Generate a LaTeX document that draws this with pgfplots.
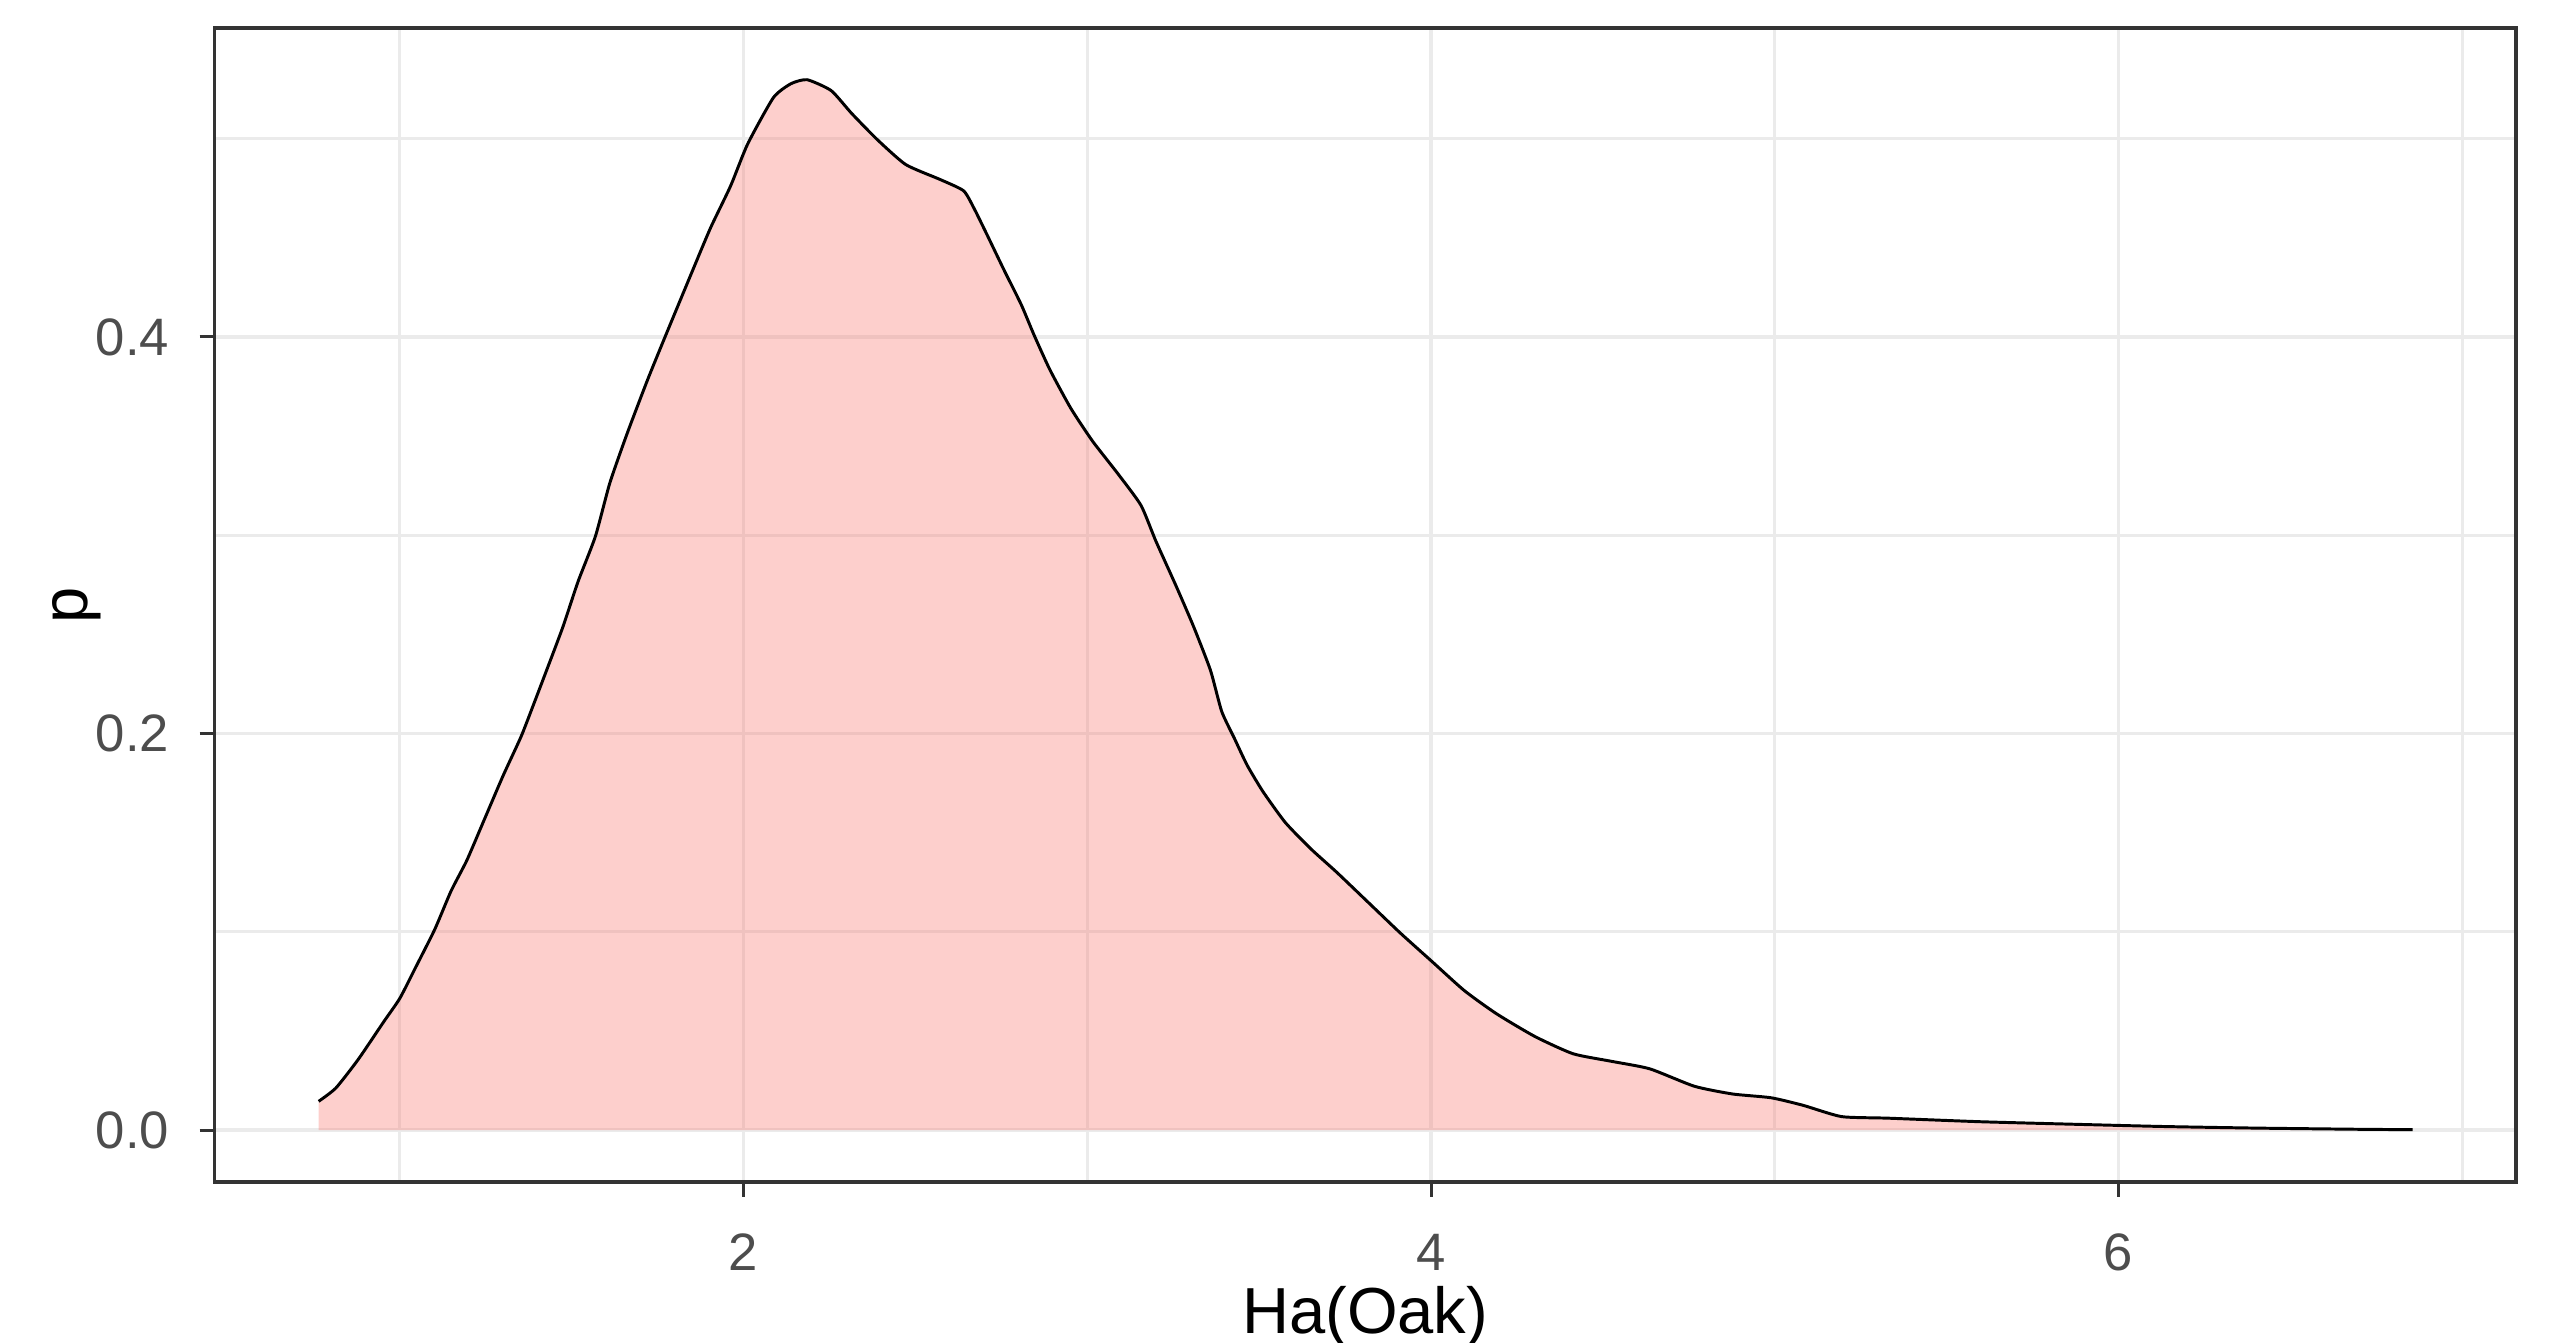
\documentclass[border=0pt]{standalone}
\usepackage{fontspec}
\setmainfont{Liberation Sans}
\usepackage{pgfplots}
\usepackage{pgfplotstable}
\pgfplotsset{compat=1.18}
\definecolor{gridc}{HTML}{EBEBEB}
\definecolor{bordc}{HTML}{333333}
\definecolor{tickc}{HTML}{4D4D4D}
\definecolor{fillc}{HTML}{F8766D}
\pgfplotstableread{
x y
0.764 0.0145
0.814 0.0212
0.879 0.0356
0.954 0.0548
1.000 0.0664
1.046 0.0820
1.102 0.1013
1.149 0.1205
1.195 0.1360
1.242 0.1550
1.300 0.1785
1.353 0.1985
1.390 0.2150
1.428 0.2323
1.474 0.2535
1.519 0.2768
1.569 0.2994
1.611 0.3263
1.661 0.3511
1.720 0.3780
1.770 0.3993
1.853 0.4340
1.904 0.4550
1.962 0.4760
2.012 0.4973
2.087 0.5207
2.138 0.5277
2.185 0.5297
2.255 0.5242
2.314 0.5128
2.389 0.4995
2.472 0.4869
2.573 0.4793
2.640 0.4737
2.670 0.4650
2.707 0.4520
2.757 0.4340
2.808 0.4162
2.845 0.4010
2.891 0.3835
2.952 0.3640
3.015 0.3475
3.089 0.3310
3.156 0.3151
3.199 0.2972
3.258 0.2745
3.308 0.2544
3.358 0.2320
3.391 0.2111
3.428 0.1975
3.465 0.1840
3.511 0.1707
3.576 0.1551
3.651 0.1417
3.725 0.1301
3.818 0.1147
3.911 0.0993
4.004 0.0848
4.097 0.0703
4.190 0.0587
4.302 0.0472
4.413 0.0385
4.524 0.0347
4.636 0.0309
4.766 0.0221
4.877 0.0182
4.989 0.0163
5.082 0.0125
5.194 0.0068
5.330 0.0060
5.600 0.0042
5.900 0.0028
6.130 0.0018
6.400 0.0010
6.700 0.0004
6.855 0.0002
}\dens
\begin{document}
\begin{tikzpicture}
\useasboundingbox (-36.25bp,-27.04bp) rectangle (395.73bp,199.77bp);
\begin{axis}[
  scale only axis, width=388.97bp, height=195.04bp,
  xmin=0.461, xmax=7.156, ymin=-0.0262, ymax=0.5558,
  xtick={2,4,6}, xticklabels={2,4,6},
  ytick={0,0.2,0.4}, yticklabels={0.0,0.2,0.4},
  minor xtick={1,3,5,7}, minor ytick={0.1,0.3,0.5},
  grid=both,
  major grid style={draw=gridc, line width=0.55bp},
  minor grid style={draw=gridc, line width=0.55bp},
  axis line style={draw=bordc, line width=0.56bp},
  tick align=outside, major tick length=2.5bp, minor tick length=0pt,
  tick style={draw=bordc, line width=0.5bp},
  xtick pos=left, ytick pos=left,
  /pgf/number format/assume math mode=true,
  ticklabel style={font=\fontsize{8.9bp}{10bp}\selectfont, text=tickc, inner sep=0pt},
  xticklabel style={anchor=north, yshift=-6.08bp},
  yticklabel style={anchor=east, xshift=-4.99bp},
  xlabel={Ha(Oak)}, ylabel={p},
  label style={font=\fontsize{11bp}{13bp}\selectfont, inner sep=0pt, text=black},
  xlabel style={at={(axis description cs:0.5,0)}, anchor=base, yshift=-25.52bp},
  ylabel style={at={(axis description cs:-0.0487,0.5)}, anchor=south},
]
\addplot[draw=none, fill=fillc, fill opacity=0.35, smooth, tension=0.35] table {\dens} \closedcycle;
\addplot[black, line width=0.5bp, line join=round, smooth, tension=0.35] table {\dens};
\end{axis}
\end{tikzpicture}
\end{document}
